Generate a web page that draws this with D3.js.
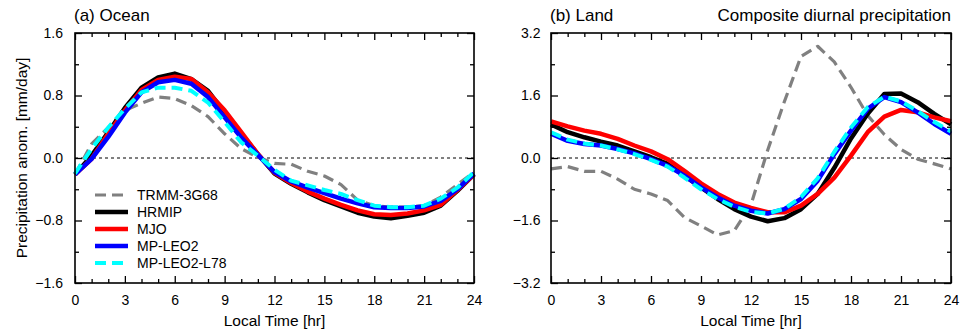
<!DOCTYPE html>
<html>
<head>
<meta charset="utf-8">
<script src="https://cdn.jsdelivr.net/npm/d3@7"></script>
<style>
  html, body { margin: 0; padding: 0; background: #fff; }
  svg { display: block; font-family: "Liberation Sans", Arial, Helvetica, sans-serif; }
</style>
</head>
<body>
<svg id="chart" width="968" height="332"></svg>
<script>
// ---------- data ----------
const hours = [0,1,2,3,4,5,6,7,8,9,10,11,12,13,14,15,16,17,18,19,20,21,22,23,24];
const seriesNames = ["TRMM-3G68", "HRMIP", "MJO", "MP-LEO2", "MP-LEO2-L78"];
const xTicks = [0,3,6,9,12,15,18,21,24];

// (a) Ocean
const trmmOcean = [-0.21,0.18,0.39,0.61,0.70,0.78,0.76,0.67,0.53,0.31,0.12,0.01,-0.07,-0.08,-0.17,-0.23,-0.34,-0.54,-0.61,-0.63,-0.63,-0.61,-0.50,-0.34,-0.18];
const hrmipOcean = [-0.21,0.03,0.33,0.64,0.90,1.03,1.08,1.01,0.86,0.58,0.31,0.05,-0.20,-0.33,-0.44,-0.54,-0.62,-0.70,-0.75,-0.77,-0.74,-0.70,-0.61,-0.42,-0.21];
const mjoOcean   = [-0.21,-0.01,0.31,0.61,0.87,1.00,1.04,1.01,0.84,0.61,0.33,0.05,-0.19,-0.32,-0.43,-0.52,-0.60,-0.67,-0.72,-0.73,-0.71,-0.67,-0.60,-0.41,-0.21];
const leo2Ocean  = [-0.21,-0.01,0.27,0.58,0.84,0.97,1.00,0.95,0.78,0.52,0.26,0.04,-0.18,-0.30,-0.38,-0.45,-0.52,-0.58,-0.63,-0.64,-0.64,-0.62,-0.55,-0.40,-0.20];
const l78Ocean   = [-0.20,0.12,0.39,0.63,0.84,0.90,0.90,0.86,0.71,0.46,0.20,0.03,-0.15,-0.29,-0.35,-0.41,-0.46,-0.54,-0.61,-0.63,-0.63,-0.61,-0.52,-0.38,-0.18];
const yTicksOcean = [-1.6,-0.8,0,0.8,1.6];
const yMinorOcean = [-1.2,-0.4,0.4,1.2];

// (b) Land
const trmmLand  = [-0.28,-0.22,-0.34,-0.34,-0.54,-0.80,-0.92,-1.09,-1.52,-1.74,-1.97,-1.86,-1.20,0.20,1.44,2.60,2.86,2.46,1.81,1.09,0.60,0.22,-0.03,-0.15,-0.28];
const hrmipLand = [0.86,0.66,0.53,0.42,0.32,0.17,0.02,-0.15,-0.45,-0.75,-1.05,-1.31,-1.50,-1.62,-1.54,-1.31,-0.92,-0.25,0.50,1.13,1.64,1.65,1.43,1.13,0.86];
const mjoLand   = [0.94,0.81,0.70,0.62,0.49,0.32,0.17,-0.03,-0.33,-0.65,-0.92,-1.14,-1.28,-1.39,-1.39,-1.22,-0.92,-0.50,0.06,0.66,1.06,1.23,1.17,1.04,0.94];
const leo2Land  = [0.62,0.44,0.36,0.32,0.23,0.12,-0.03,-0.20,-0.45,-0.75,-1.01,-1.22,-1.35,-1.42,-1.31,-1.05,-0.58,0.10,0.70,1.26,1.56,1.43,1.17,0.87,0.62];
const l78Land   = [0.66,0.47,0.37,0.32,0.22,0.10,-0.05,-0.22,-0.50,-0.80,-1.05,-1.25,-1.38,-1.42,-1.30,-1.00,-0.52,0.16,0.78,1.30,1.57,1.45,1.20,0.92,0.68];
const yTicksLand = [-3.2,-1.6,0,1.6,3.2];
const yMinorLand = [-2.4,-0.8,0.8,2.4];

// ---------- styles ----------
const styles = [
  {color: "#808080", width: 3.2, dash: "11,6"},
  {color: "#000000", width: 4.5, dash: null},
  {color: "#ff0000", width: 4.5, dash: null},
  {color: "#0000ff", width: 4.5, dash: null},
  {color: "#00ffff", width: 4,   dash: "11,6"}
];

const svg = d3.select("#chart");
const FONT = '"Liberation Sans", Arial, Helvetica, sans-serif';

const panels = [
  {x0: 75, x1: 474, y0: 33, y1: 283, dom: [-1.6, 1.6], yt: yTicksOcean, ym: yMinorOcean,
   data: [trmmOcean, hrmipOcean, mjoOcean, leo2Ocean, l78Ocean], title: "(a) Ocean", ylab: true, legend: true, ypad: 12},
  {x0: 551, x1: 951, y0: 33, y1: 283, dom: [-3.2, 3.2], yt: yTicksLand, ym: yMinorLand,
   data: [trmmLand, hrmipLand, mjoLand, leo2Land, l78Land], title: "(b) Land", ylab: false, legend: false, ypad: 10.5,
   rtitle: "Composite diurnal precipitation"}
];

const xMinor = hours.filter(h => h % 3 !== 0);

panels.forEach(p => {
  const x = d3.scaleLinear().domain([0, 24]).range([p.x0, p.x1]);
  const y = d3.scaleLinear().domain(p.dom).range([p.y1, p.y0]);
  const g = svg.append("g");

  // zero line
  g.append("line")
    .attr("x1", x(0)).attr("x2", x(24)).attr("y1", y(0)).attr("y2", y(0))
    .attr("stroke", "#000").attr("stroke-width", 1).attr("stroke-dasharray", "3,3");

  // series
  const line = d3.line().x((d, i) => x(hours[i])).y(d => y(d));
  p.data.forEach((arr, k) => {
    const s = styles[k];
    g.append("path")
      .attr("d", line(arr))
      .attr("fill", "none")
      .attr("stroke", s.color)
      .attr("stroke-width", s.width)
      .attr("stroke-linejoin", "round")
      .attr("stroke-dasharray", s.dash);
  });

  // axes helpers
  function styleAxis(sel) {
    sel.select(".domain").remove();
    sel.selectAll(".tick line").attr("stroke", "#000").attr("stroke-width", 1.3);
    sel.selectAll(".tick text").attr("font-family", FONT).attr("font-size", 14).attr("fill", "#000");
  }
  // bottom
  g.append("g").attr("transform", `translate(0,${p.y1})`)
    .call(d3.axisBottom(x).tickValues(xTicks).tickFormat(d3.format("d")).tickSize(-7).tickSizeOuter(0).tickPadding(12))
    .call(styleAxis);
  g.append("g").attr("transform", `translate(0,${p.y1})`)
    .call(d3.axisBottom(x).tickValues(xMinor).tickFormat("").tickSize(-4).tickSizeOuter(0))
    .call(styleAxis);
  // top
  g.append("g").attr("transform", `translate(0,${p.y0})`)
    .call(d3.axisTop(x).tickValues(xTicks).tickFormat("").tickSize(-7).tickSizeOuter(0))
    .call(styleAxis);
  g.append("g").attr("transform", `translate(0,${p.y0})`)
    .call(d3.axisTop(x).tickValues(xMinor).tickFormat("").tickSize(-4).tickSizeOuter(0))
    .call(styleAxis);
  // left
  g.append("g").attr("transform", `translate(${p.x0},0)`)
    .call(d3.axisLeft(y).tickValues(p.yt).tickFormat(d3.format(".1f")).tickSize(-7).tickSizeOuter(0).tickPadding(p.ypad))
    .call(styleAxis);
  g.append("g").attr("transform", `translate(${p.x0},0)`)
    .call(d3.axisLeft(y).tickValues(p.ym).tickFormat("").tickSize(-4).tickSizeOuter(0))
    .call(styleAxis);
  // right
  g.append("g").attr("transform", `translate(${p.x1},0)`)
    .call(d3.axisRight(y).tickValues(p.yt).tickFormat("").tickSize(-7).tickSizeOuter(0))
    .call(styleAxis);
  g.append("g").attr("transform", `translate(${p.x1},0)`)
    .call(d3.axisRight(y).tickValues(p.ym).tickFormat("").tickSize(-4).tickSizeOuter(0))
    .call(styleAxis);

  // frame
  g.append("rect")
    .attr("x", p.x0).attr("y", p.y0).attr("width", p.x1 - p.x0).attr("height", p.y1 - p.y0)
    .attr("fill", "none").attr("stroke", "#000").attr("stroke-width", 1.6);

  // titles
  g.append("text").attr("x", p.x0 - 1).attr("y", 21)
    .attr("font-family", FONT).attr("font-size", 17).text(p.title);
  if (p.rtitle) {
    g.append("text").attr("x", p.x1).attr("y", 21).attr("text-anchor", "end")
      .attr("font-family", FONT).attr("font-size", 17).text(p.rtitle);
  }
  // x label
  g.append("text").attr("x", (p.x0 + p.x1) / 2).attr("y", 326).attr("text-anchor", "middle")
    .attr("font-family", FONT).attr("font-size", 15.5).text("Local Time [hr]");
  // y label
  if (p.ylab) {
    g.append("text").attr("transform", `translate(27,${(p.y0 + p.y1) / 2}) rotate(-90)`)
      .attr("text-anchor", "middle")
      .attr("font-family", FONT).attr("font-size", 15.5).text("Precipitation anom. [mm/day]");
  }
  // legend
  if (p.legend) {
    const lg = g.append("g");
    seriesNames.forEach((name, k) => {
      const s = styles[k];
      const cy = 195 + k * 17;
      lg.append("line").attr("x1", 95).attr("x2", 128).attr("y1", cy).attr("y2", cy)
        .attr("stroke", s.color).attr("stroke-width", s.width)
        .attr("stroke-dasharray", s.dash);
      lg.append("text").attr("x", 137).attr("y", cy + 5)
        .attr("font-family", FONT).attr("font-size", 14).text(name);
    });
  }
});
</script>
</body>
</html>
